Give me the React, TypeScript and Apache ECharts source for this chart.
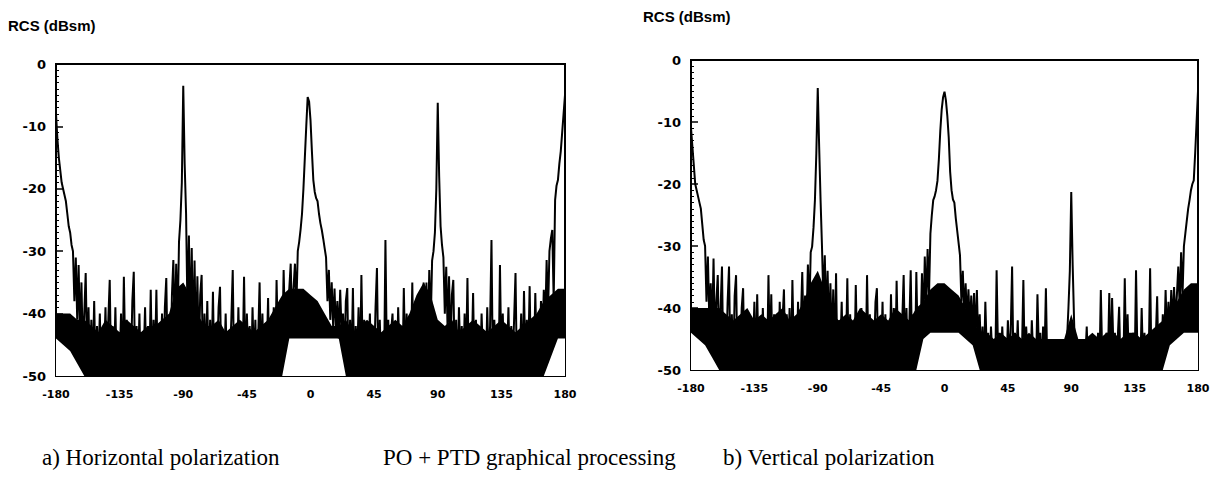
import React, { useEffect, useRef } from 'react';
import * as echarts from 'echarts';

// Aspect angle (deg), one sample per degree
const ANGLES: number[] = [];
for (let a = -180; a <= 180; a++) ANGLES.push(a);
// Coarser angle grid (5 deg) for the solid black noise floor band
const BAND_ANGLES: number[] = [];
for (let a = -180; a <= 180; a += 5) BAND_ANGLES.push(a);

const X_TICKS = [-180, -135, -90, -45, 0, 45, 90, 135, 180];
const Y_TITLE = 'RCS (dBsm)';
const CAPTION_A = 'a) Horizontal polarization';
const CAPTION_MID = 'PO + PTD graphical processing';
const CAPTION_B = 'b) Vertical polarization';

// a) Horizontal polarization, RCS in dBsm, -180..180 deg
const H_RCS: number[] = [
  -8, -12, -15, -17, -19, -20, -21, -22, -24, -26,
  -27, -29, -30, -38, -31, -41, -32.2, -44, -35, -46,
  -40, -33.5, -47, -39, -50, -41, -49, -38, -50, -42,
  -48, -40, -50, -43, -47, -39, -50, -41, -34.6, -50,
  -42, -49, -39, -50, -44, -48, -40, -50, -34.1, -47,
  -41, -50, -43, -48, -38, -33.3, -50, -42, -49, -40,
  -50, -44, -47, -39, -50, -42, -49, -36.2, -50, -41,
  -48, -36.2, -50, -43, -47, -40, -50, -39, -34.3, -49,
  -41, -48, -37, -31.4, -44, -32, -42, -28.5, -25, -19,
  -3.5, -16, -24, -40, -27.5, -43, -29.5, -45, -31.5, -46,
  -34, -47, -37, -33.8, -50, -40, -48, -38, -50, -41,
  -49, -36.5, -50, -42, -47, -39, -35.7, -50, -43, -48,
  -40, -50, -44, -47, -41, -33, -50, -42, -49, -39,
  -50, -43, -48, -34.1, -50, -40, -47, -42, -50, -39,
  -48, -41, -50, -44, -35, -49, -40, -50, -42, -47,
  -37.5, -50, -41, -48, -39, -50, -34.6, -45, -40, -47,
  -46, -33, -43, -38, -44, -36, -32, -42, -36, -32,
  -39, -30, -28.5, -26.5, -24, -20, -15, -10, -5.3, -6,
  -9, -14, -18.6, -20.5, -21.5, -22, -24, -25.5, -26.6, -28,
  -29.5, -31, -38, -33, -41, -35, -42, -36, -43, -38,
  -44, -36.2, -43, -40, -47, -38, -35.9, -50, -41, -48,
  -35.9, -50, -42, -47, -39, -50, -33.8, -48, -41, -50,
  -43, -47, -40, -50, -42, -48, -39, -32.7, -50, -41,
  -49, -44, -50, -28.2, -47, -41, -50, -43, -40, -48,
  -42, -50, -39, -47, -43, -50, -35.9, -48, -40, -50,
  -44, -47, -35, -50, -41, -48, -39, -50, -42, -47,
  -35, -48, -35, -45, -33, -42, -31.5, -30, -27, -20,
  -6.2, -18, -26, -29, -31, -40, -32.5, -43, -34, -46,
  -37, -34.6, -48, -41, -50, -39, -47, -42, -50, -40,
  -48, -34.3, -50, -43, -47, -36.7, -50, -41, -49, -43,
  -50, -40, -47, -44, -50, -39, -48, -42, -28.2, -50,
  -41, -47, -43, -50, -32.2, -48, -40, -50, -44, -47,
  -39, -50, -42, -48, -41, -33.5, -50, -43, -47, -40,
  -50, -36.4, -48, -41, -47, -35.6, -50, -42, -48, -36.7,
  -47, -40, -48, -38, -45, -36.2, -42, -31.4, -40, -30,
  -28, -26.6, -38, -21.8, -19.5, -18.6, -16, -14, -11, -8, -5,
];

// b) Vertical polarization, RCS in dBsm, -180..180 deg
const V_RCS: number[] = [
  -11, -14, -17, -20, -21, -22, -23, -24, -26.5, -29,
  -30, -39, -31.7, -42, -36, -44, -32, -45, -39, -34.7,
  -47, -40, -33.3, -50, -42, -48, -39, -33.3, -50, -41,
  -49, -38, -34.7, -50, -43, -47, -40, -36.8, -50, -42,
  -48, -41, -50, -44, -47, -39, -50, -37.8, -48, -42,
  -50, -40, -47, -43, -50, -34.7, -48, -37.8, -50, -41,
  -47, -43, -50, -39, -48, -42, -37, -50, -41, -48,
  -40, -50, -35.5, -47, -43, -50, -39, -48, -42, -34.2,
  -45, -38, -43, -33, -41, -31, -30.1, -27, -22.6, -15,
  -4.5, -14, -22.6, -30, -39, -31.5, -42, -34, -44, -36,
  -46, -37, -48, -34.4, -50, -42, -47, -39, -50, -43,
  -48, -35.2, -50, -41, -47, -43, -50, -36.3, -48, -42,
  -50, -40, -47, -44, -50, -34.7, -48, -41, -50, -43,
  -47, -39, -36.8, -50, -42, -48, -39, -50, -41, -47,
  -43, -50, -37.8, -48, -40, -50, -35.6, -47, -41, -50,
  -42, -34.7, -48, -40, -50, -43, -33.9, -48, -41, -50,
  -34.2, -46, -40, -44, -34.4, -43, -31.7, -40, -30.5, -38,
  -28, -25, -22.6, -22, -21, -19.5, -16, -11.5, -8, -6,
  -5.1, -6.5, -9, -12.5, -18, -21, -22.5, -23, -25.5, -27.5,
  -29.5, -31.5, -39, -34, -41, -36, -42, -37, -43, -38,
  -44, -37.6, -45, -37.1, -46, -41, -48, -43, -50, -39,
  -47, -44, -50, -43, -48, -45, -50, -33.9, -47, -44,
  -50, -43, -48, -45, -50, -42, -47, -44, -33.3, -50,
  -44, -48, -42, -50, -45, -47, -35.5, -50, -43, -48,
  -45, -50, -42, -48, -46, -50, -37.8, -47, -44, -50,
  -43, -48, -36.8, -50, -45, -48, -50, -47, -50, -49,
  -46, -50, -48, -50, -47, -50, -49, -45, -40, -34,
  -21.3, -33, -42, -50, -48, -50, -49, -50, -47, -50,
  -48, -43, -50, -46, -50, -45, -50, -47, -50, -44,
  -50, -37.1, -48, -45, -50, -44, -49, -37.6, -50, -38.4,
  -47, -44, -50, -45, -39.8, -50, -46, -50, -35.2, -49,
  -41, -50, -45, -48, -44, -50, -33.9, -48, -45, -50,
  -40, -49, -44, -50, -46, -48, -33.6, -50, -44, -48,
  -45, -38.1, -50, -43, -48, -41, -46, -37.1, -45, -39,
  -44, -37.1, -43, -36.6, -42, -38, -33.3, -40, -31, -38,
  -30, -28, -26, -24, -22.6, -21, -20, -19.4, -15, -10, -5,
];

// Upper edge of the solid black noise floor (dBsm), every 5 deg from -180 to 180
const H_FLOOR_TOP: number[] = [
  -40, -40, -40, -41, -41, -42, -43, -41, -42, -43,
  -41, -42, -43, -42, -42, -41, -40, -36, -35, -37,
  -40, -42, -42, -41, -43, -42, -41, -42, -43, -42,
  -41, -39, -37, -36, -36, -36, -37, -38, -40, -42,
  -42, -41, -43, -42, -41, -42, -43, -42, -41, -42,
  -40, -37, -35, -37, -41, -42, -41, -43, -42, -41,
  -42, -43, -42, -41, -42, -43, -42, -41, -40, -38,
  -37, -36, -36,
];
// Lower edge of that floor (white below it), every 5 deg
const H_FLOOR_BOTTOM: number[] = [
  -44, -45, -46, -48, -50, -50, -50, -50, -50, -50,
  -50, -50, -50, -50, -50, -50, -50, -50, -50, -50,
  -50, -50, -50, -50, -50, -50, -50, -50, -50, -50,
  -50, -50, -50, -44, -44, -44, -44, -44, -44, -44,
  -44, -50, -50, -50, -50, -50, -50, -50, -50, -50,
  -50, -50, -50, -50, -50, -50, -50, -50, -50, -50,
  -50, -50, -50, -50, -50, -50, -50, -50, -50, -50,
  -47, -44, -44,
];

const V_FLOOR_TOP: number[] = [
  -40, -40, -40, -40, -40, -41, -42, -41, -40, -42,
  -41, -42, -41, -40, -42, -41, -39, -36, -34, -37,
  -41, -42, -41, -42, -40, -41, -42, -41, -42, -40,
  -41, -42, -40, -39, -37, -36, -36, -37, -38, -40,
  -42, -44, -44, -45, -44, -45, -44, -45, -44, -45,
  -45, -45, -45, -45, -41, -45, -45, -44, -45, -44,
  -44, -45, -44, -44, -45, -44, -43, -42, -41, -39,
  -37, -36, -36,
];
const V_FLOOR_BOTTOM: number[] = [
  -44, -45, -46, -48, -50, -50, -50, -50, -50, -50,
  -50, -50, -50, -50, -50, -50, -50, -50, -50, -50,
  -50, -50, -50, -50, -50, -50, -50, -50, -50, -50,
  -50, -50, -50, -45, -44, -44, -44, -44, -44, -45,
  -46, -50, -50, -50, -50, -50, -50, -50, -50, -50,
  -50, -50, -50, -50, -50, -50, -50, -50, -50, -50,
  -50, -50, -50, -50, -50, -50, -50, -50, -46, -45,
  -44, -44, -44,
];

const LABEL_FONT = 'DejaVu Sans';

function makeX(gridIndex: number) {
  return {
    type: 'value',
    gridIndex,
    min: X_TICKS[0],
    max: X_TICKS[X_TICKS.length - 1],
    interval: 45,
    axisLine: { show: true, onZero: false, lineStyle: { color: '#000', width: 2 } },
    axisTick: { show: true, inside: true, length: 6, lineStyle: { color: '#000', width: 1.5 } },
    minorTick: { show: true, splitNumber: 9, length: 3, lineStyle: { color: '#000', width: 1 } },
    splitLine: { show: false },
    axisLabel: { color: '#000', fontFamily: LABEL_FONT, fontWeight: 'bold', fontSize: 11, margin: 13 },
  };
}

function makeY(gridIndex: number) {
  return {
    type: 'value',
    gridIndex,
    min: -50,
    max: 0,
    interval: 10,
    axisLine: { show: true, onZero: false, lineStyle: { color: '#000', width: 2 } },
    axisTick: { show: true, inside: true, length: 7, lineStyle: { color: '#000', width: 1.5 } },
    minorTick: { show: true, splitNumber: 10, length: 3, lineStyle: { color: '#000', width: 1 } },
    splitLine: { show: false },
    axisLabel: { color: '#000', fontFamily: LABEL_FONT, fontWeight: 'bold', fontSize: 13, margin: 10 },
  };
}

function makeTrace(idx: number, values: number[]) {
  return {
    type: 'line',
    xAxisIndex: idx,
    yAxisIndex: idx,
    data: ANGLES.map((a, i) => [a, values[i]]),
    showSymbol: false,
    symbol: 'none',
    clip: true,
    z: 3,
    lineStyle: { color: '#000', width: 2 },
    itemStyle: { color: '#000' },
  };
}

function makeArea(idx: number, values: number[], color: string, z: number) {
  return {
    type: 'line',
    xAxisIndex: idx,
    yAxisIndex: idx,
    data: BAND_ANGLES.map((a, i) => [a, values[i]]),
    showSymbol: false,
    symbol: 'none',
    silent: true,
    clip: true,
    z,
    lineStyle: { width: 0, opacity: 0 },
    areaStyle: { color, opacity: 1, origin: 'start' },
  };
}

export default function App() {
  const ref = useRef<HTMLDivElement>(null);
  useEffect(() => {
    if (!ref.current) return;
    const chart = echarts.init(ref.current, undefined, { renderer: 'svg' });
    const titleStyle = { text: Y_TITLE, fontFamily: 'Liberation Sans', fontWeight: 'bold', fontSize: 15, fill: '#000' };
    const capStyle = { fontFamily: 'Liberation Serif', fontSize: 23, fill: '#000' };
    chart.setOption({
      animation: false,
      backgroundColor: '#fff',
      grid: [
        { left: 56, top: 64, width: 509, height: 312, show: true, borderColor: '#000', borderWidth: 2, containLabel: false },
        { left: 691, top: 60, width: 507, height: 310, show: true, borderColor: '#000', borderWidth: 2, containLabel: false },
      ],
      xAxis: [makeX(0), makeX(1)],
      yAxis: [makeY(0), makeY(1)],
      series: [
        makeArea(0, H_FLOOR_TOP, '#000', 1),
        makeArea(0, H_FLOOR_BOTTOM, '#fff', 2),
        makeTrace(0, H_RCS),
        makeArea(1, V_FLOOR_TOP, '#000', 1),
        makeArea(1, V_FLOOR_BOTTOM, '#fff', 2),
        makeTrace(1, V_RCS),
      ],
      graphic: [
        { type: 'text', left: 8, top: 18, style: { ...titleStyle } },
        { type: 'text', left: 643, top: 9, style: { ...titleStyle } },
        { type: 'text', left: 42, top: 446, style: { ...capStyle, text: CAPTION_A } },
        { type: 'text', left: 383, top: 446, style: { ...capStyle, text: CAPTION_MID } },
        { type: 'text', left: 723, top: 446, style: { ...capStyle, text: CAPTION_B } },
      ],
    });
    return () => chart.dispose();
  }, []);
  return (
    <div
      ref={ref}
      style={{ position: 'absolute', left: 0, top: 0, width: 1219, height: 485, background: '#fff' }}
    />
  );
}
